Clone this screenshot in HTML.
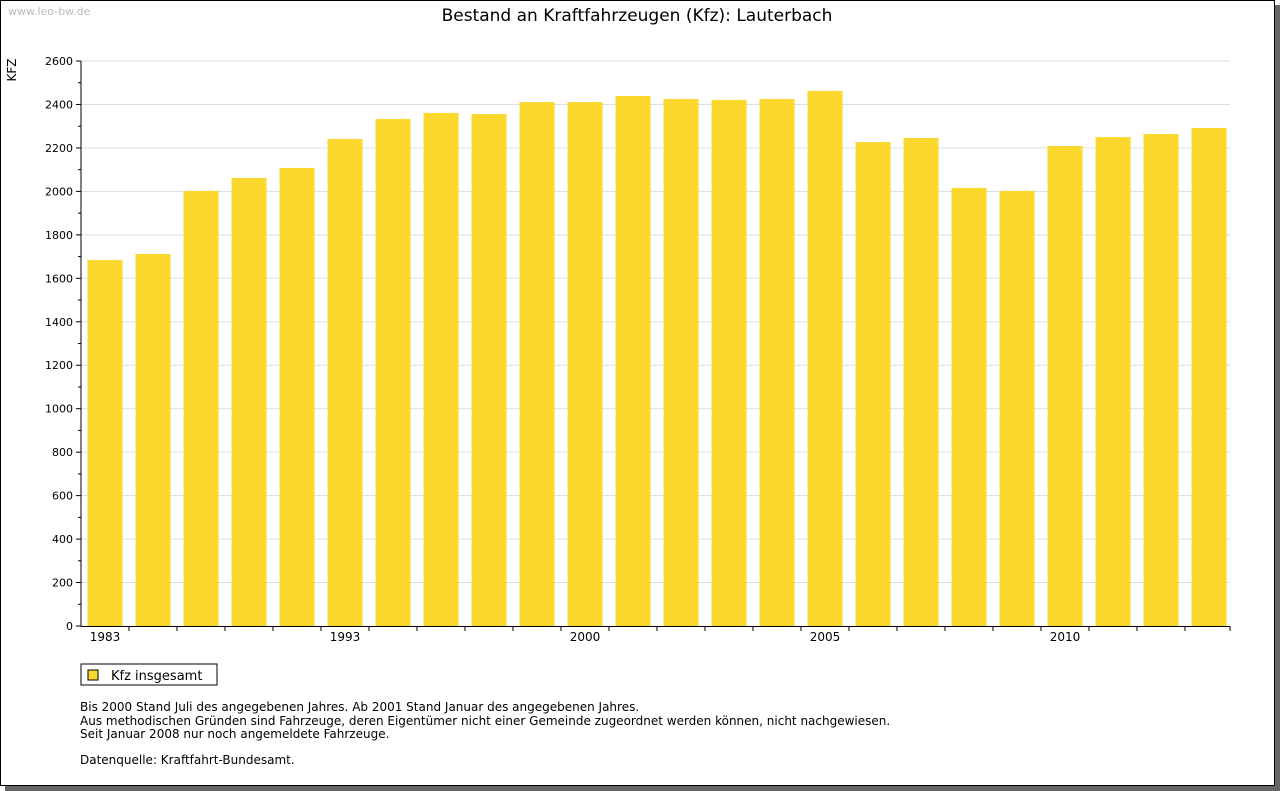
<!DOCTYPE html>
<html><head><meta charset="utf-8">
<style>
body{margin:0;background:#fff;width:1280px;height:791px;overflow:hidden;font-family:"DejaVu Sans","Liberation Sans",sans-serif;}
#frame{position:absolute;left:0;top:0;width:1273px;height:784px;border:1px solid #000;box-shadow:5px 5px 0 #666;background:#fff;}
</style></head><body>
<div id="frame"></div>
<svg id="chart" width="1280" height="791" style="position:absolute;left:0;top:0" font-family="DejaVu Sans, Liberation Sans, sans-serif">
<text x="8" y="15" font-size="11" fill="#bbb">www.leo-bw.de</text>
<text x="637" y="21" font-size="17" text-anchor="middle" fill="#000">Bestand an Kraftfahrzeugen (Kfz): Lauterbach</text>
<text x="16" y="70" font-size="12" transform="rotate(-90 16 70)" text-anchor="middle">KFZ</text>
<g id="grid"></g><g id="bars"></g><g id="axes"></g>
<rect x="81" y="664" width="136" height="21" fill="#fff" stroke="#000"/>
<rect x="88" y="670" width="10" height="10" fill="#fcd72e" stroke="#000"/>
<text x="111" y="680" font-size="13">Kfz insgesamt</text>
<g font-size="12">
<text x="80" y="711">Bis 2000 Stand Juli des angegebenen Jahres. Ab 2001 Stand Januar des angegebenen Jahres.</text>
<text x="80" y="725">Aus methodischen Gründen sind Fahrzeuge, deren Eigentümer nicht einer Gemeinde zugeordnet werden können, nicht nachgewiesen.</text>
<text x="80" y="738">Seit Januar 2008 nur noch angemeldete Fahrzeuge.</text>
<text x="80" y="764">Datenquelle: Kraftfahrt-Bundesamt.</text>
</g>
</svg>
<script>
const categories=["1983","1985","1987","1989","1991","1993","1995","1996","1997","1998","2000","2001","2002","2003","2004","2005","2006","2007","2008","2009","2010","2011","2012","2013"];
const values=[1684,1712,2002,2062,2108,2241,2333,2361,2356,2411,2411,2439,2425,2421,2425,2462,2227,2246,2016,2002,2209,2250,2264,2292];
const shownLabels=["1983","1993","2000","2005","2010"];
const yTicks=[0,200,400,600,800,1000,1200,1400,1600,1800,2000,2200,2400,2600];
const NS="http://www.w3.org/2000/svg";
const x0=81,x1=1230,y0=626,y1=61,yMax=2600;
const slot=48;
const y=v=>y0-(v/yMax)*(y0-y1);
const xC=i=>x0+slot*(i+0.5);
function mk(t,a,p){const e=document.createElementNS(NS,t);for(const k in a)e.setAttribute(k,a[k]);p.appendChild(e);return e;}
const grid=document.getElementById('grid'),bars=document.getElementById('bars'),axes=document.getElementById('axes');
yTicks.forEach(v=>{
 if(v>0){const g=mk('line',{x1:x0,x2:x1,y1:y(v),y2:y(v),stroke:'#ddd'},grid);
 
 }
 const t=mk('text',{x:73,y:y(v)+4,'font-size':11,'text-anchor':'end'},axes);t.textContent=v;
 
 
 mk('line',{x1:76,x2:x0,y1:y(v),y2:y(v),stroke:'#000'},axes);
 if(v<yMax)mk('line',{x1:78,x2:x0,y1:y(v+100),y2:y(v+100),stroke:'#000'},axes);
});
values.forEach((v,i)=>{
 const r=mk('rect',{x:xC(i)-17.5,y:y(v),width:35,height:y0-y(v),fill:'#fcd72e'},bars);
 
 
 if(i>0)mk('line',{x1:x0+slot*i,x2:x0+slot*i,y1:y0,y2:y0+5,stroke:'#000'},axes);
 if(shownLabels.includes(categories[i])){
  const t=mk('text',{x:xC(i),y:641,'font-size':12,'text-anchor':'middle'},axes);t.textContent=categories[i];
  
  
 }
});
mk('line',{x1:x0,x2:x0,y1:y1,y2:y0+0.5,stroke:'#000'},axes);
mk('line',{x1:x0,x2:x1,y1:y0+0.5,y2:y0+0.5,stroke:'#000'},axes);
mk('line',{x1:x1,x2:x1,y1:y0,y2:y0+5,stroke:'#000'},axes);
</script>
</body></html>
